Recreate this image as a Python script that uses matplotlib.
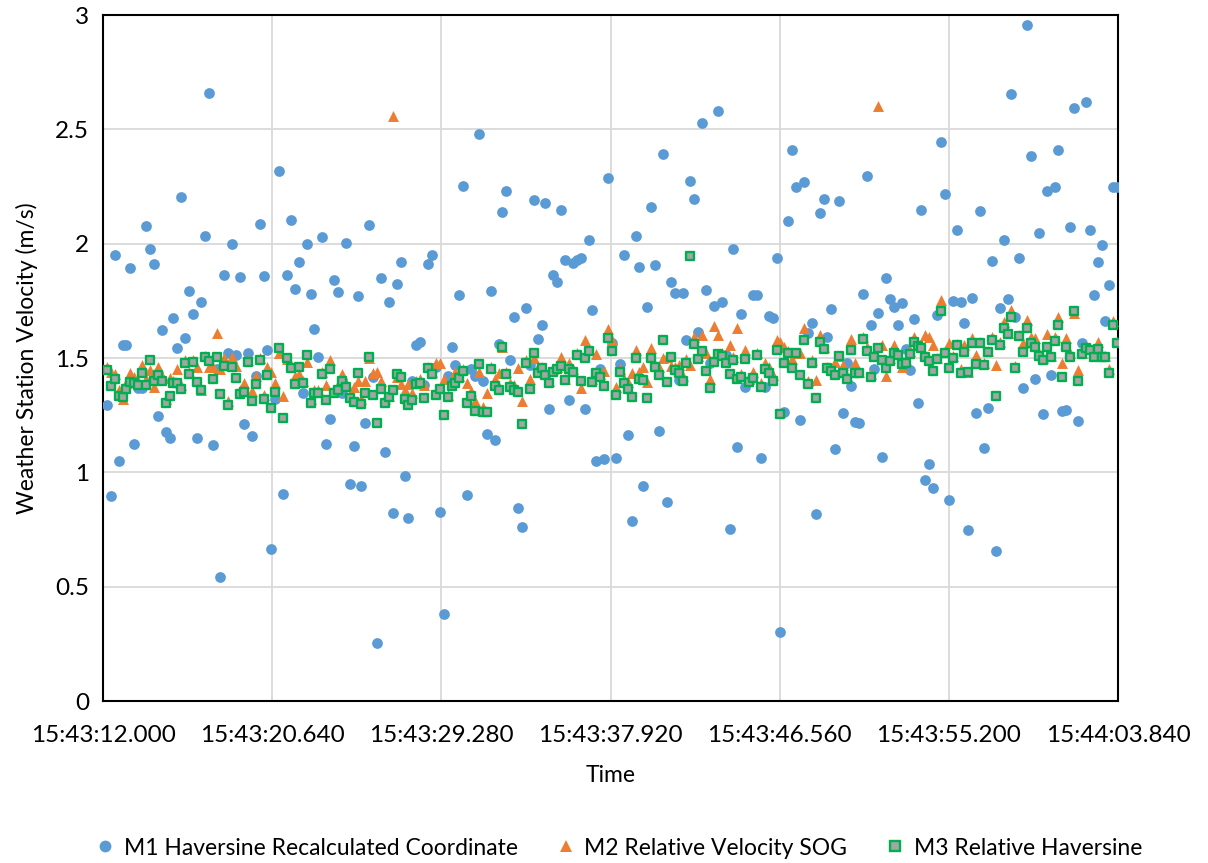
import numpy as np
import matplotlib
matplotlib.use("Agg")
import matplotlib.pyplot as plt
from matplotlib.lines import Line2D

# ---------------- data ----------------
START_S = 0.2      # first sample, seconds after 15:43:12.000
STEP_S = 0.2       # sampling interval (5 Hz)

tick_seconds = [0.0, 8.64, 17.28, 25.92, 34.56, 43.20, 51.84]
tick_labels = ["15:43:12.000", "15:43:20.640", "15:43:29.280", "15:43:37.920",
               "15:43:46.560", "15:43:55.200", "15:44:03.840"]

m1_haversine = [
    1.295, 0.898, 1.951, 1.049, 1.559, 1.559, 1.893, 1.123, 1.37, 1.37,
    2.076, 1.975, 1.910, 1.248, 1.621, 1.176, 1.148, 1.676, 1.543, 2.205,
    1.588, 1.791, 1.691, 1.150, 1.746, 2.035, 2.658, 1.121, 1.45, 0.541,
    1.863, 1.521, 1.998, 1.514, 1.855, 1.213, 1.521, 1.160, 1.42, 2.086,
    1.857, 1.533, 0.666, 1.32, 2.318, 0.906, 1.865, 2.105, 1.803, 1.922,
    1.346, 2.0, 1.779, 1.629, 1.504, 2.027, 1.125, 1.234, 1.840, 1.787,
    1.346, 2.004, 0.949, 1.113, 1.770, 0.941, 1.215, 2.082, 1.416, 0.252,
    1.850, 1.090, 1.746, 0.822, 1.822, 1.922, 0.984, 0.801, 1.40, 1.557,
    1.572, 1.382, 1.912, 1.949, 1.459, 0.828, 0.381, 1.42, 1.549, 1.469,
    1.775, 2.254, 0.902, 1.45, 1.420, 2.480, 1.40, 1.166, 1.795, 1.143,
    1.563, 2.137, 2.232, 1.492, 1.678, 0.846, 0.760, 1.719, 1.469, 2.191,
    1.584, 1.645, 2.178, 1.277, 1.865, 1.834, 2.146, 1.930, 1.316, 1.914,
    1.928, 1.936, 1.279, 2.014, 1.711, 1.049, 1.45, 1.057, 2.287, 1.566,
    1.061, 1.473, 1.951, 1.164, 0.785, 2.035, 1.898, 0.939, 1.723, 2.160,
    1.906, 1.180, 2.393, 0.871, 1.832, 1.785, 1.404, 1.783, 1.578, 2.275,
    2.195, 1.615, 2.527, 1.799, 1.477, 1.727, 2.582, 1.744, 1.513, 0.752,
    1.977, 1.109, 1.693, 1.371, 1.40, 1.777, 1.777, 1.064, 1.375, 1.682,
    1.676, 1.939, 0.303, 1.264, 2.098, 2.408, 2.248, 1.230, 2.270, 1.61,
    1.652, 0.818, 2.133, 2.197, 1.590, 1.713, 1.104, 2.188, 1.260, 1.477,
    1.377, 1.221, 1.217, 1.779, 2.295, 1.646, 1.45, 1.695, 1.066, 1.850,
    1.758, 1.723, 1.643, 1.742, 1.538, 1.447, 1.672, 1.305, 2.146, 0.965,
    1.037, 0.932, 1.688, 2.443, 2.217, 0.877, 1.748, 2.061, 1.744, 1.654,
    0.746, 1.764, 1.258, 2.145, 1.107, 1.281, 1.924, 0.654, 1.719, 2.016,
    1.760, 2.654, 1.678, 1.938, 1.367, 2.957, 2.383, 1.408, 2.045, 1.256,
    2.229, 1.426, 2.250, 2.410, 1.268, 1.273, 2.074, 2.594, 1.225, 1.567,
    2.621, 2.061, 1.777, 1.922, 1.992, 1.660, 1.820, 2.246, 2.248,
]

m2_sog = [
    1.46, 1.44, 1.43, 1.36, 1.32, 1.39, 1.433, 1.415, 1.40, 1.469,
    1.41, 1.447, 1.375, 1.459, 1.42, 1.32, 1.411, 1.40, 1.45, 1.38,
    1.49, 1.44, 1.49, 1.459, 1.36, 1.51, 1.462, 1.459, 1.608, 1.45,
    1.499, 1.31, 1.506, 1.465, 1.36, 1.389, 1.49, 1.356, 1.421, 1.50,
    1.34, 1.459, 1.44, 1.39, 1.52, 1.334, 1.494, 1.47, 1.42, 1.43,
    1.40, 1.484, 1.32, 1.36, 1.36, 1.44, 1.38, 1.491, 1.36, 1.38,
    1.43, 1.39, 1.34, 1.375, 1.40, 1.32, 1.40, 1.50, 1.433, 1.44,
    1.40, 1.32, 1.334, 2.56, 1.415, 1.386, 1.36, 1.386, 1.348, 1.40,
    1.41, 1.382, 1.46, 1.44, 1.48, 1.48, 1.41, 1.34, 1.40, 1.44,
    1.42, 1.45, 1.39, 1.357, 1.31, 1.44, 1.287, 1.345, 1.46, 1.41,
    1.433, 1.55, 1.44, 1.39, 1.38, 1.455, 1.313, 1.49, 1.407, 1.50,
    1.46, 1.46, 1.44, 1.40, 1.45, 1.46, 1.506, 1.41, 1.48, 1.45,
    1.52, 1.367, 1.579, 1.54, 1.41, 1.516, 1.43, 1.445, 1.625, 1.58,
    1.375, 1.45, 1.407, 1.397, 1.433, 1.535, 1.44, 1.459, 1.397, 1.542,
    1.47, 1.462, 1.50, 1.506, 1.465, 1.46, 1.469, 1.42, 1.494, 1.47,
    1.593, 1.51, 1.60, 1.523, 1.407, 1.64, 1.60, 1.52, 1.50, 1.557,
    1.506, 1.63, 1.43, 1.535, 1.41, 1.44, 1.52, 1.39, 1.48, 1.46,
    1.426, 1.58, 1.57, 1.55, 1.53, 1.494, 1.52, 1.523, 1.63, 1.40,
    1.49, 1.404, 1.60, 1.55, 1.46, 1.45, 1.484, 1.51, 1.47, 1.42,
    1.582, 1.48, 1.44, 1.59, 1.55, 1.43, 1.51, 2.60, 1.557, 1.421,
    1.50, 1.557, 1.52, 1.46, 1.49, 1.53, 1.593, 1.56, 1.55, 1.60,
    1.593, 1.557, 1.50, 1.754, 1.53, 1.564, 1.51, 1.56, 1.45, 1.557,
    1.44, 1.586, 1.513, 1.57, 1.48, 1.53, 1.593, 1.469, 1.57, 1.659,
    1.61, 1.71, 1.465, 1.60, 1.564, 1.666, 1.593, 1.586, 1.52, 1.50,
    1.605, 1.51, 1.593, 1.681, 1.48, 1.586, 1.52, 1.695, 1.448, 1.52,
    1.55, 1.54, 1.51, 1.571, 1.51, 1.51, 1.45, 1.66, 1.57,
]

m3_relative = [
    1.446, 1.378, 1.407, 1.335, 1.328, 1.366, 1.397, 1.389, 1.382, 1.433,
    1.382, 1.491, 1.401, 1.426, 1.401, 1.305, 1.334, 1.389, 1.392, 1.366,
    1.477, 1.430, 1.481, 1.395, 1.359, 1.506, 1.488, 1.410, 1.506, 1.341,
    1.465, 1.293, 1.459, 1.413, 1.341, 1.353, 1.484, 1.312, 1.385, 1.491,
    1.322, 1.424, 1.280, 1.353, 1.544, 1.238, 1.501, 1.456, 1.385, 1.459,
    1.391, 1.512, 1.302, 1.345, 1.348, 1.430, 1.316, 1.452, 1.345, 1.360,
    1.401, 1.375, 1.324, 1.309, 1.436, 1.299, 1.348, 1.506, 1.337, 1.217,
    1.366, 1.305, 1.33, 1.36, 1.430, 1.415, 1.322, 1.293, 1.316, 1.386,
    1.389, 1.327, 1.455, 1.430, 1.338, 1.364, 1.251, 1.328, 1.378, 1.389,
    1.411, 1.445, 1.302, 1.334, 1.267, 1.472, 1.264, 1.265, 1.450, 1.379,
    1.360, 1.547, 1.429, 1.375, 1.360, 1.353, 1.211, 1.480, 1.363, 1.520,
    1.433, 1.455, 1.426, 1.389, 1.440, 1.453, 1.465, 1.404, 1.450, 1.440,
    1.513, 1.401, 1.499, 1.531, 1.397, 1.436, 1.415, 1.379, 1.589, 1.532,
    1.337, 1.439, 1.389, 1.366, 1.328, 1.499, 1.410, 1.404, 1.327, 1.499,
    1.459, 1.426, 1.579, 1.394, 1.503, 1.448, 1.436, 1.398, 1.480, 1.947,
    1.560, 1.496, 1.532, 1.445, 1.370, 1.483, 1.517, 1.509, 1.477, 1.429,
    1.493, 1.408, 1.418, 1.496, 1.394, 1.414, 1.513, 1.372, 1.452, 1.433,
    1.399, 1.534, 1.255, 1.477, 1.523, 1.455, 1.520, 1.426, 1.579, 1.385,
    1.480, 1.327, 1.569, 1.541, 1.458, 1.443, 1.426, 1.509, 1.433, 1.407,
    1.535, 1.433, 1.433, 1.583, 1.531, 1.418, 1.503, 1.545, 1.49, 1.455,
    1.487, 1.520, 1.512, 1.474, 1.477, 1.517, 1.571, 1.552, 1.545, 1.506,
    1.487, 1.443, 1.496, 1.706, 1.523, 1.458, 1.501, 1.557, 1.436, 1.525,
    1.437, 1.564, 1.472, 1.564, 1.471, 1.526, 1.579, 1.334, 1.557, 1.630,
    1.603, 1.681, 1.458, 1.598, 1.525, 1.630, 1.564, 1.547, 1.509, 1.491,
    1.547, 1.506, 1.574, 1.644, 1.418, 1.550, 1.506, 1.706, 1.401, 1.516,
    1.542, 1.535, 1.506, 1.539, 1.506, 1.506, 1.433, 1.644, 1.564,
]

series_names = ["M1 Haversine Recalculated Coordinate",
                "M2 Relative Velocity SOG",
                "M3 Relative Haversine"]
y_ticks = [0, 0.5, 1, 1.5, 2, 2.5, 3]
y_tick_labels = ["0", "0.5", "1", "1.5", "2", "2.5", "3"]

# ---------------- plot ----------------
plt.rcParams['font.family'] = ['Lato', 'DejaVu Sans']

BLUE = "#5b9bd5"
ORANGE = "#ed7d31"
GREEN = "#00b050"
GRAY = "#a5a5a5"

fig = plt.figure(figsize=(12.08, 8.63), dpi=100)
ax = fig.add_axes([103 / 1208, 1 - 701 / 863, (1118 - 103) / 1208, (701 - 15) / 863])

def times_for(vals):
    return START_S + STEP_S * np.arange(len(vals))

ax.scatter(times_for(m1_haversine), m1_haversine, s=60, marker='o', color=BLUE,
           linewidths=0, zorder=3)
ax.scatter(times_for(m2_sog), m2_sog, s=62, marker='^', color=ORANGE,
           linewidths=0, zorder=4)
ax.scatter(times_for(m3_relative), m3_relative, s=40, marker='s', facecolor=GRAY,
           edgecolor=GREEN, linewidths=1.7, zorder=5)

ax.set_xlim(tick_seconds[0], tick_seconds[-1])
ax.set_ylim(0, 3)
ax.set_xticks(tick_seconds)
ax.set_xticklabels(tick_labels)
ax.set_yticks(y_ticks)
ax.set_yticklabels(y_tick_labels)
ax.tick_params(axis='both', length=0, labelsize=17.5, colors='#000000')
ax.tick_params(axis='x', pad=17)
ax.tick_params(axis='y', pad=10)
ax.grid(True, color='#d9d9d9', linewidth=1.3, zorder=0)
ax.set_axisbelow(True)
for sp in ax.spines.values():
    sp.set_color('#000000')
    sp.set_linewidth(1.5)

ax.set_xlabel("Time", fontsize=16.5, labelpad=14)
ax.set_ylabel("Weather Station Velocity (m/s)", fontsize=16.5, labelpad=12)

handles = [
    Line2D([], [], linestyle='none', marker='o', markersize=8.5, color=BLUE, markeredgewidth=0),
    Line2D([], [], linestyle='none', marker='^', markersize=8.5, color=ORANGE, markeredgewidth=0),
    Line2D([], [], linestyle='none', marker='s', markersize=7.5, markerfacecolor=GRAY,
           markeredgecolor=GREEN, markeredgewidth=1.7),
]
fig.legend(handles, series_names, loc='center', bbox_to_anchor=(618 / 1208, 1 - 848 / 863),
           ncol=3, frameon=False, fontsize=16.5, handletextpad=0.3, columnspacing=1.6,
           handlelength=1.0)

fig.savefig("out.png", dpi=100)
